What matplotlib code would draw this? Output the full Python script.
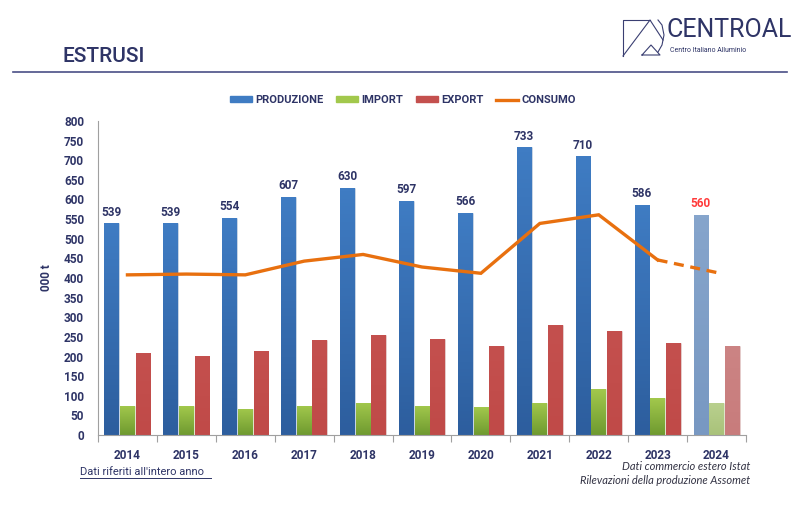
import matplotlib.pyplot as plt
import matplotlib.colors as mcolors
import numpy as np
from matplotlib.patches import Patch
from matplotlib.lines import Line2D

years = ["2014", "2015", "2016", "2017", "2018", "2019", "2020", "2021", "2022", "2023", "2024"]
produzione = [539, 539, 554, 607, 630, 597, 566, 733, 710, 586, 560]
import_vals = [75, 73, 67, 75, 82, 74, 71, 82, 117, 93, 81]
export_vals = [208, 201, 215, 241, 255, 244, 226, 279, 266, 234, 228]
consumo = [408, 410, 408, 443, 460, 428, 412, 539, 561, 446, 414]
yticks = list(range(0, 801, 50))

NAVY = "#2e3466"
BLUE = ("#3f7cc3", "#2d5e9e")
GREEN = ("#a2c84c", "#6f9a30")
RED = ("#c4504e", "#c04a48")
BLUE_F = ("#86a5cc", "#7898c2")
GREEN_F = ("#b9d08e", "#a9c27a")
RED_F = ("#cc8484", "#c87c7c")
ORANGE = "#e8700f"

plt.rcParams['font.family'] = ['Roboto', 'DejaVu Sans']

fig = plt.figure(figsize=(8, 5.05), dpi=100)
ax = fig.add_axes([98 / 800, 1 - 435 / 505, 648 / 800, 314 / 505])

x = np.arange(len(years))
w = 0.25
off = 0.266


def grad_bars(xs, vals, cols, faded_cols):
    # bars with a vertical gradient, last year (estimate) drawn faded
    bars = ax.bar(xs, vals, w, color=cols[0], edgecolor="#e8e8e8", lw=0.4, zorder=2)
    for i, b in enumerate(bars):
        top, bot = faded_cols if i == len(bars) - 1 else cols
        cmap = mcolors.LinearSegmentedColormap.from_list("g", [bot, top])
        g = np.linspace(0, 1, 64).reshape(-1, 1)
        x0 = b.get_x()
        im = ax.imshow(g, cmap=cmap, origin="lower", aspect="auto",
                       extent=[x0, x0 + b.get_width(), 0, b.get_height()], zorder=2.1)
        im.set_clip_path(b)
    return bars


grad_bars(x - off, produzione, BLUE, BLUE_F)
grad_bars(x, import_vals, GREEN, GREEN_F)
grad_bars(x + off, export_vals, RED, RED_F)

# consumo line, last segment dashed (estimate)
ax.plot(x[:-1], consumo[:-1], color=ORANGE, lw=2.4, zorder=4, solid_joinstyle="miter")
ax.plot(x[-2:], consumo[-2:], color=ORANGE, lw=2.4, ls=(0, (3, 2)), zorder=4)

for i, v in enumerate(produzione):
    c = "#ff3b3b" if i == len(produzione) - 1 else NAVY
    ax.text(x[i] - off, v + 12, str(v), ha="center", va="bottom", fontsize=8.5,
            fontweight="bold", color=c)

ax.set_xlim(-0.5, len(years) - 0.5)
ax.set_ylim(0, 800)
ax.set_yticks(yticks)
ax.set_yticklabels([str(t) for t in yticks], fontsize=8.5, fontweight="bold", color=NAVY)
ax.tick_params(axis="y", length=0, pad=10)
ax.set_xticks(x)
ax.set_xticklabels(years, fontsize=8.5, fontweight="bold", color=NAVY)
ax.set_xticks(np.arange(-0.5, len(years)), minor=True)
ax.tick_params(axis="x", which="major", length=0, pad=10)
ax.tick_params(axis="x", which="minor", length=5, color="#a0a0a0", width=0.8)
for s in ["top", "right"]:
    ax.spines[s].set_visible(False)
ax.spines["left"].set_color("#a0a0a0")
ax.spines["bottom"].set_color("#a0a0a0")
ax.set_ylabel("000 t", fontsize=8.5, fontweight="bold", color=NAVY, labelpad=8)

# legend
handles = [Patch(color=BLUE[0]), Patch(color=GREEN[0]), Patch(color=RED[0]),
           Line2D([], [], color=ORANGE, lw=2.4)]
leg = fig.legend(handles, ["PRODUZIONE", "IMPORT", "EXPORT", "CONSUMO"], ncol=4,
                 loc="center", bbox_to_anchor=(403 / 800, 1 - 100 / 505), frameon=False,
                 handlelength=2.0, handleheight=0.45, handletextpad=0.3, columnspacing=1.1,
                 prop={"size": 8, "weight": "bold"})
for t in leg.get_texts():
    t.set_color(NAVY)

# header
fig.text(62 / 800, 1 - 57 / 505, "ESTRUSI", fontsize=15, color=NAVY, va="center", ha="left",
         fontweight="medium")
fig.add_artist(Line2D([13 / 800, 787 / 800], [1 - 72 / 505] * 2, color="#4a4f86", lw=1.2))

# logo
LOGO = "#3a3f72"
def fline(xs, ys):
    fig.add_artist(Line2D([v / 800 for v in xs], [1 - v / 505 for v in ys], color=LOGO, lw=0.8))

fline([623, 623, 650], [56, 20, 20])
fline([623, 650, 663], [56, 20, 40])
fline([642, 651, 660, 642], [55, 45, 55, 55])
fline([658, 662, 664, 662, 658], [20, 25, 35, 45, 52])
fig.text(667 / 800, 1 - 30 / 505, "CENTROAL", fontsize=18, color="#2e3466", va="center",
         ha="left")
fig.text(670 / 800, 1 - 50 / 505, "Centro Italiano Alluminio", fontsize=5, color="#2e3466",
         va="center", ha="left")

# footnotes
fig.text(80 / 800, 1 - 472 / 505, "Dati riferiti all'intero anno", fontsize=8, color=NAVY,
         va="center", ha="left")
fig.add_artist(Line2D([80 / 800, 211 / 800], [1 - 478 / 505] * 2, color=NAVY, lw=0.7))
fig.text(750 / 800, 1 - 466 / 505, "Dati commercio estero Istat", fontsize=8, color="#333344",
         va="center", ha="right", style="italic", family=["Lato", "DejaVu Sans"])
fig.text(750 / 800, 1 - 480 / 505, "Rilevazioni della produzione Assomet", fontsize=8,
         color="#333344", va="center", ha="right", style="italic", family=["Lato", "DejaVu Sans"])

fig.savefig("out.png", dpi=100)
